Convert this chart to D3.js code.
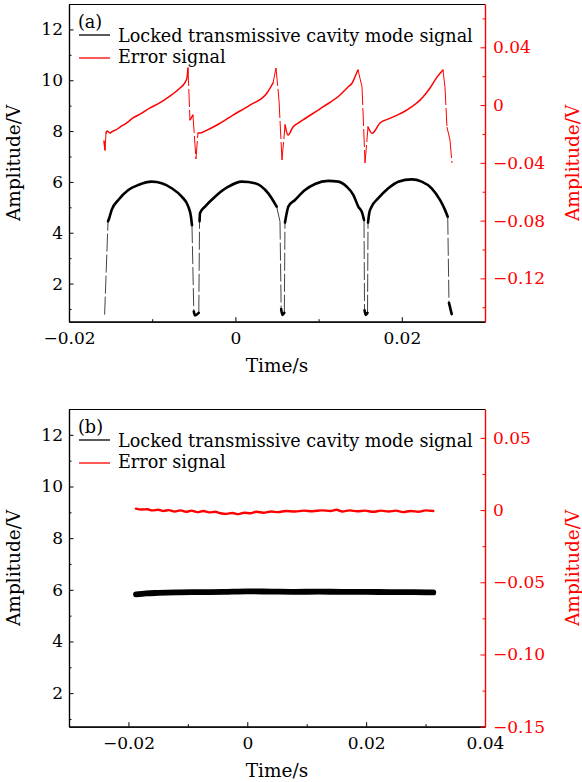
<!DOCTYPE html>
<html>
<head>
<meta charset="utf-8">
<script src="https://cdn.jsdelivr.net/npm/d3@7"></script>
<style>
body { margin: 0; background: #fff; }
svg text { font-family: "DejaVu Serif", serif; }
</style>
</head>
<body>
<div class="chart"></div>
<script>
// ---- values ----
var seriesNames = ["Locked transmissive cavity mode signal", "Error signal"];
var panelTags = ["(a)", "(b)"];
var timeTitle = "Time/s";
var ampTitle = "Amplitude/V";

// (a) scanning: [time s, amplitude V]
var aCavity = [
  [-0.01572, 0.78], [-0.01531, 4.45], [-0.01519, 4.55], [-0.01487, 4.90],
  [-0.01407, 5.29], [-0.01287, 5.68], [-0.01167, 5.88], [-0.01006, 6.01],
  [-0.00886, 5.95], [-0.00766, 5.75], [-0.00645, 5.42], [-0.00566, 5.03],
  [-0.00534, 4.63], [-0.00522, 4.30], [-0.00500, 0.90], [-0.00486, 0.75],
  [-0.00440, 0.85], [-0.00431, 4.45], [-0.00425, 4.78], [-0.00365, 5.03],
  [-0.00245, 5.42], [-0.00085, 5.81], [0.00076, 6.01], [0.00236, 5.95],
  [0.00395, 5.55], [0.00496, 5.03], [0.00536, 4.44], [0.00550, 1.00],
  [0.00564, 0.77], [0.00588, 0.85], [0.00596, 4.40], [0.00617, 4.78],
  [0.00636, 5.03], [0.00716, 5.29], [0.00837, 5.68], [0.00957, 5.92],
  [0.01117, 6.04], [0.01237, 6.01], [0.01338, 5.81], [0.01417, 5.49],
  [0.01477, 5.03], [0.01525, 4.77], [0.01546, 4.50], [0.01552, 0.95],
  [0.01566, 0.77], [0.01588, 0.85], [0.01594, 4.40], [0.01609, 4.78],
  [0.01638, 5.03], [0.01718, 5.36], [0.01838, 5.75], [0.01958, 6.01],
  [0.02119, 6.10], [0.02239, 6.01], [0.02359, 5.75], [0.02459, 5.29],
  [0.02519, 4.90], [0.02552, 4.63], [0.02567, 1.24], [0.02600, 0.80]
];
var aError = [
  [-0.01579, -0.0249], [-0.01567, -0.0311], [-0.01555, -0.0193], [-0.01543, -0.0180],
  [-0.01507, -0.0193], [-0.01471, -0.0180], [-0.01435, -0.0172], [-0.01387, -0.0152],
  [-0.01310, -0.0125], [-0.01231, -0.0089], [-0.01130, -0.0058], [-0.01026, -0.0020],
  [-0.00920, 0.0012], [-0.00822, 0.0049], [-0.00740, 0.0082], [-0.00666, 0.0118],
  [-0.00610, 0.0152], [-0.00582, 0.0188], [-0.00570, 0.0257], [-0.00546, -0.0103],
  [-0.00510, -0.0069], [-0.00474, -0.0373], [-0.00450, -0.0193], [-0.00425, -0.0193],
  [-0.00341, -0.0173], [-0.00221, -0.0138], [-0.00029, -0.0069], [0.00175, 0.0000],
  [0.00380, 0.0084], [0.00452, 0.0153], [0.00488, 0.0257], [0.00524, 0.0035],
  [0.00560, -0.0380], [0.00597, -0.0138], [0.00633, -0.0207], [0.00692, -0.0152],
  [0.00776, -0.0117], [0.01053, -0.0013], [0.01257, 0.0070], [0.01353, 0.0125],
  [0.01401, 0.0151], [0.01462, 0.0229], [0.01474, 0.0243], [0.01522, 0.0125],
  [0.01558, -0.0401], [0.01594, -0.0152], [0.01642, -0.0195], [0.01738, -0.0124],
  [0.01858, -0.0092], [0.02063, -0.0034], [0.02255, 0.0056], [0.02339, 0.0118],
  [0.02423, 0.0194], [0.02495, 0.0243], [0.02519, 0.0125], [0.02543, -0.0152],
  [0.02579, -0.0242], [0.02603, -0.0401]
];

// (b) locked
var bCavity = [
  [-0.01873, 5.82], [-0.0170, 5.86], [-0.0150, 5.88], [-0.0120, 5.90], [-0.0080, 5.91],
  [-0.0040, 5.92], [0.0000, 5.94], [0.0040, 5.93], [0.0080, 5.92], [0.0120, 5.93],
  [0.0160, 5.92], [0.0200, 5.92], [0.0240, 5.91], [0.0280, 5.91], [0.0313, 5.90]
];
var bError = [
  [-0.01873, 0.0010], [-0.0178, 0.0004], [-0.0168, 0.0006], [-0.0160, -0.0002],
  [-0.0150, 0.0002], [-0.0141, -0.0006], [-0.0132, 0.0000], [-0.0122, -0.0010],
  [-0.0112, -0.0002], [-0.0103, -0.0012], [-0.0094, -0.0004], [-0.0084, -0.0014],
  [-0.0074, -0.0006], [-0.0064, -0.0016], [-0.0054, -0.0012], [-0.0045, -0.0022],
  [-0.0035, -0.0026], [-0.0025, -0.0020], [-0.0015, -0.0028], [-0.0005, -0.0018],
  [0.0005, -0.0022], [0.0015, -0.0012], [0.0027, -0.0018], [0.0040, -0.0010],
  [0.0052, -0.0014], [0.0065, -0.0006], [0.0080, -0.0010], [0.0095, -0.0004],
  [0.0110, -0.0008], [0.0125, -0.0002], [0.0140, -0.0006], [0.0150, 0.0002],
  [0.0160, -0.0010], [0.0172, -0.0002], [0.0185, -0.0008], [0.0198, -0.0004],
  [0.0212, -0.0012], [0.0225, -0.0004], [0.0238, -0.0010], [0.0250, -0.0004],
  [0.0262, -0.0014], [0.0275, -0.0006], [0.0288, -0.0012], [0.0300, -0.0002],
  [0.0313, -0.0006]
];

// axes
var leftTicks = [2, 4, 6, 8, 10, 12];
var leftMinor = [1, 3, 5, 7, 9, 11];

var aTimeRange = [-0.02, 0.03];
var aLeftRange = [0.5, 13];
var aRightRange = [-0.15, 0.07];
var aTimeTicks = [-0.02, 0, 0.02];
var aTimeLabels = ["\u22120.02", "0", "0.02"];
var aTimeMinor = [-0.01, 0.01];
var aRightTicks = [0.04, 0, -0.04, -0.08, -0.12];
var aRightLabels = ["0.04", "0", "\u22120.04", "\u22120.08", "\u22120.12"];
var aRightMinor = [0.06, 0.02, -0.02, -0.06, -0.10, -0.14];

var bTimeRange = [-0.03, 0.04];
var bLeftRange = [0.7, 13];
var bRightRange = [-0.15, 0.07];
var bTimeTicks = [-0.02, 0, 0.02, 0.04];
var bTimeLabels = ["\u22120.02", "0", "0.02", "0.04"];
var bTimeMinor = [-0.01, 0.01, 0.03];
var bRightTicks = [0.05, 0, -0.05, -0.10, -0.15];
var bRightLabels = ["0.05", "0", "\u22120.05", "\u22120.10", "\u22120.15"];
var bRightMinor = [0.025, -0.025, -0.075, -0.125];

// ---- layout ----
var svgWidth = 582;
var svgHeight = 782;
var left = 69, right = 485;
var fontSize = 17;
var legendSize = 17.6;
var titleSize = 18.5;
var red = "#ff0000";

var svg = d3.select(".chart")
  .append("svg")
  .attr("width", svgWidth)
  .attr("height", svgHeight);

var panels = [
  { top: 4, bottom: 321.7, tag: panelTags[0], time: aTimeRange, amp: aLeftRange, err: aRightRange,
    tTicks: aTimeTicks, tLabels: aTimeLabels, tMinor: aTimeMinor,
    rTicks: aRightTicks, rLabels: aRightLabels, rMinor: aRightMinor,
    cavity: aCavity, error: aError, cavityWidth: 2.6, errorWidth: 1.5 },
  { top: 409, bottom: 726.7, tag: panelTags[1], time: bTimeRange, amp: bLeftRange, err: bRightRange,
    tTicks: bTimeTicks, tLabels: bTimeLabels, tMinor: bTimeMinor,
    rTicks: bRightTicks, rLabels: bRightLabels, rMinor: bRightMinor,
    cavity: bCavity, error: bError, cavityWidth: 5.8, errorWidth: 2.4 }
];

function styleAxis(sel, color) {
  sel.attr("font-size", fontSize).attr("font-family", "DejaVu Serif, serif");
  sel.select(".domain").attr("stroke", color).attr("stroke-width", 1.2);
  sel.selectAll(".tick line").attr("stroke", color).attr("stroke-width", 1);
  sel.selectAll("text").attr("fill", color);
}

// steep parts (the fast jumps) thin and dashed, the rest as a solid trace
function drawTrace(g, pts, x, y, color, width, jumpColor) {
  var px = pts.map(d => [x(d[0]), y(d[1])]);
  var runs = [], jumps = [], run = [px[0]];
  for (var i = 1; i < px.length; i++) {
    var dx = px[i][0] - px[i - 1][0];
    var dy = Math.abs(px[i][1] - px[i - 1][1]);
    if (dy > 12 && dy > 3 * dx) {
      jumps.push([px[i - 1], px[i]]);
      if (run.length > 1) runs.push(run);
      run = [px[i]];
    } else {
      run.push(px[i]);
    }
  }
  if (run.length > 1) runs.push(run);

  var line = d3.line().curve(d3.curveMonotoneX);
  g.selectAll(null)
    .data(jumps)
    .enter()
    .append("path")
    .attr("d", d3.line())
    .attr("fill", "none")
    .attr("stroke", jumpColor)
    .attr("stroke-width", 1)
    .attr("stroke-dasharray", "18,3");
  g.selectAll(null)
    .data(runs)
    .enter()
    .append("path")
    .attr("d", line)
    .attr("fill", "none")
    .attr("stroke", color)
    .attr("stroke-width", width)
    .attr("stroke-linejoin", "round")
    .attr("stroke-linecap", "round");
}

panels.forEach(function(p) {
  var g = svg.append("g");

  var xScale = d3.scaleLinear().domain(p.time).range([left, right]);
  var yLeft = d3.scaleLinear().domain(p.amp).range([p.bottom, p.top]);
  var yRight = d3.scaleLinear().domain(p.err).range([p.bottom, p.top]);

  // top frame edge
  g.append("line")
    .attr("x1", left).attr("x2", right)
    .attr("y1", p.top + 0.5).attr("y2", p.top + 0.5)
    .attr("stroke", "#000").attr("stroke-width", 1.2);

  // traces
  drawTrace(g, p.error, xScale, yRight, red, p.errorWidth, red);
  drawTrace(g, p.cavity, xScale, yLeft, "#000", p.cavityWidth, "#444");

  // bottom axis
  g.append("g")
    .attr("transform", `translate(0, ${p.bottom})`)
    .call(d3.axisBottom(xScale).tickValues(p.tMinor).tickSize(-2.5).tickSizeOuter(0).tickFormat(""))
    .call(styleAxis, "#000");
  g.append("g")
    .attr("transform", `translate(0, ${p.bottom})`)
    .call(d3.axisBottom(xScale).tickValues(p.tTicks).tickSize(-4.5).tickSizeOuter(0)
      .tickPadding(10).tickFormat((d, i) => p.tLabels[i]))
    .call(styleAxis, "#000");

  // left axis
  g.append("g")
    .attr("transform", `translate(${left}, 0)`)
    .call(d3.axisLeft(yLeft).tickValues(leftMinor).tickSize(-2.5).tickSizeOuter(0).tickFormat(""))
    .call(styleAxis, "#000");
  g.append("g")
    .attr("transform", `translate(${left}, 0)`)
    .call(d3.axisLeft(yLeft).tickValues(leftTicks).tickSize(-4.5).tickSizeOuter(0).tickPadding(6))
    .call(styleAxis, "#000");

  // right axis (error signal)
  g.append("g")
    .attr("transform", `translate(${right}, 0)`)
    .call(d3.axisRight(yRight).tickValues(p.rMinor).tickSize(-2.5).tickSizeOuter(0).tickFormat(""))
    .call(styleAxis, red);
  g.append("g")
    .attr("transform", `translate(${right}, 0)`)
    .call(d3.axisRight(yRight).tickValues(p.rTicks).tickSize(-4.5).tickSizeOuter(0)
      .tickPadding(8).tickFormat((d, i) => p.rLabels[i]))
    .call(styleAxis, red);

  // axis titles
  var midY = (p.top + p.bottom) / 2;
  g.append("text")
    .attr("transform", `translate(20, ${midY}) rotate(-90)`)
    .attr("text-anchor", "middle")
    .attr("font-size", titleSize)
    .text(ampTitle);
  g.append("text")
    .attr("transform", `translate(579, ${midY}) rotate(-90)`)
    .attr("text-anchor", "middle")
    .attr("font-size", titleSize)
    .attr("fill", red)
    .text(ampTitle);
  g.append("text")
    .attr("x", (left + right) / 2)
    .attr("y", p.bottom + 50)
    .attr("text-anchor", "middle")
    .attr("font-size", titleSize)
    .text(timeTitle);

  // panel tag and legend
  g.append("text")
    .attr("x", 78).attr("y", p.top + 24)
    .attr("font-size", legendSize)
    .text(p.tag);
  var legendColors = ["#000", red];
  var legendLineY = [31, 54];
  var legendTextY = [37.7, 59.3];
  seriesNames.forEach(function(name, i) {
    g.append("line")
      .attr("x1", 79).attr("x2", 110)
      .attr("y1", p.top + legendLineY[i]).attr("y2", p.top + legendLineY[i])
      .attr("stroke", legendColors[i]).attr("stroke-width", 1.3);
    g.append("text")
      .attr("x", 118).attr("y", p.top + legendTextY[i])
      .attr("font-size", legendSize)
      .text(name);
  });
});
</script>
</body>
</html>
